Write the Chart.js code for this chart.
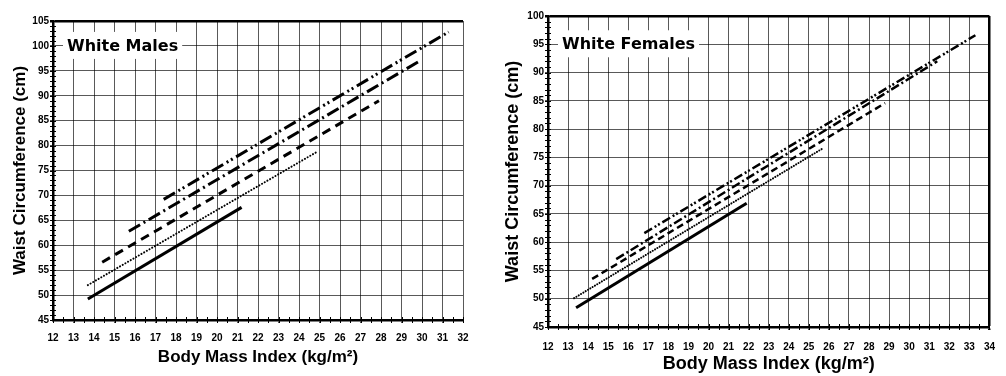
<!DOCTYPE html>
<html>
<head>
<meta charset="utf-8">
<script src="https://cdn.jsdelivr.net/npm/chart.js@4.4.1/dist/chart.umd.min.js"></script>
<style>
  body { margin: 0; background: #fff; }
  #maleChart { position: absolute; left: 0; top: 0; }
  #femaleChart { position: absolute; left: 495px; top: 0; }
</style>
</head>
<body>
<canvas id="maleChart" width="490" height="376"></canvas>
<canvas id="femaleChart" width="511" height="376"></canvas>
<script>
// line names (the picture has no legend)
const lineNames = ["solid", "dotted", "dashed", "dash-dot", "dash-dot-dot"];

// white males: bmi and waist at start and end of each line
const maleBmi = [[13.7, 21.2], [13.7, 24.9], [14.4, 27.9], [15.7, 29.9], [17.4, 31.3]];
const maleWaist = [[49.2, 67.6], [52.0, 78.8], [56.6, 89.0], [62.8, 97.0], [69.2, 102.8]];

// white females
const femaleBmi = [[13.4, 21.9], [13.3, 25.7], [14.2, 28.8], [15.4, 31.4], [16.8, 33.3]];
const femaleWaist = [[48.4, 66.9], [50.1, 76.6], [53.5, 84.6], [57.0, 92.0], [61.6, 96.6]];

// axis ranges
const maleXRange = [12, 32];
const maleYRange = [45, 105];
const femaleXRange = [12, 34];
const femaleYRange = [45, 100];

// minor ticks + title box inside the plot
const chartDecor = {
  id: "chartDecor",
  beforeDatasetsDraw(chart, args, opts) {
    const { ctx, chartArea, scales } = chart;
    ctx.save();
    ctx.strokeStyle = "#000";
    ctx.lineWidth = 1;
    for (let v = scales.y.min; v <= scales.y.max; v += 1) {
      const py = Math.round(scales.y.getPixelForValue(v)) + 0.5;
      ctx.beginPath();
      ctx.moveTo(chartArea.left - 3, py);
      ctx.lineTo(chartArea.left + 3, py);
      ctx.stroke();
    }
    for (let v = scales.x.min; v <= scales.x.max; v += 0.5) {
      const px = Math.round(scales.x.getPixelForValue(v)) + 0.5;
      ctx.beginPath();
      ctx.moveTo(px, chartArea.bottom - 3);
      ctx.lineTo(px, chartArea.bottom + 3);
      ctx.stroke();
    }
    // title box
    ctx.font = "bold 16px 'DejaVu Sans'";
    const ty = scales.y.getPixelForValue(opts.atValue);
    const w = ctx.measureText(opts.text).width;
    ctx.fillStyle = "#fff";
    ctx.fillRect(chartArea.left + 10, ty - 14, w + 8, 27);
    ctx.fillStyle = "#000";
    ctx.textBaseline = "middle";
    ctx.fillText(opts.text, chartArea.left + 14, ty + 1);
    ctx.restore();
  }
};

function makeDatasets(bmi, waist, dashes, widths) {
  return bmi.map((xs, i) => ({
    label: lineNames[i],
    data: xs.map((x, j) => ({ x: x, y: waist[i][j] })),
    showLine: true,
    borderColor: "#000",
    borderWidth: widths[i],
    borderDash: dashes[i],
    borderCapStyle: i === 1 ? "round" : "butt",
    pointRadius: 0,
    fill: false
  }));
}

function makeOptions(xRange, yRange, box, fontSize, xPad, titleText, titleAt) {
  const gridColor = (max) => (c) => (c.tick && c.tick.value === max ? "#000" : "rgba(0,0,0,0.65)");
  const gridWidth = (max) => (c) => (c.tick && c.tick.value === max ? 2.5 : 1);
  return {
    responsive: false,
    animation: false,
    layout: { padding: { top: box.top, right: box.right, left: 0, bottom: 0 } },
    plugins: {
      legend: { display: false },
      tooltip: { enabled: false },
      chartDecor: { text: titleText, atValue: titleAt }
    },
    scales: {
      x: {
        type: "linear",
        min: xRange[0],
        max: xRange[1],
        afterFit: (s) => { s.height = box.xHeight; },
        ticks: {
          stepSize: 1,
          autoSkip: false,
          maxRotation: 0,
          padding: xPad,
          color: "#000",
          font: { family: "'Liberation Sans'", weight: "bold", size: 10 }
        },
        grid: { color: gridColor(box.rightBorder ? xRange[1] : null), lineWidth: gridWidth(box.rightBorder ? xRange[1] : null), tickLength: 3 },
        border: { color: "#000", width: 2.5 },
        title: {
          display: true,
          text: "Body Mass Index (kg/m²)",
          color: "#000",
          font: { family: "'Liberation Sans'", weight: "bold", size: fontSize },
          padding: { top: 0, bottom: box.xTitlePad }
        }
      },
      y: {
        type: "linear",
        min: yRange[0],
        max: yRange[1],
        afterFit: (s) => { s.width = 53; },
        ticks: {
          stepSize: 5,
          padding: 1,
          color: "#000",
          font: { family: "'Liberation Sans'", weight: "bold", size: 10 }
        },
        grid: { color: gridColor(yRange[1]), lineWidth: gridWidth(yRange[1]), tickLength: 3 },
        border: { color: "#000", width: 2.5 },
        title: {
          display: true,
          text: "Waist Circumference (cm)",
          color: "#000",
          font: { family: "'Liberation Sans'", weight: "bold", size: fontSize },
          padding: { top: box.yTitlePad, bottom: 0 }
        }
      }
    }
  };
}

const maleDashes = [[], [0.1, 3], [9, 6], [13, 4, 2, 4], [13, 4, 2, 3, 2, 4]];
const maleWidths = [3, 2, 3, 3, 3];
const femaleDashes = [[], [0.1, 2.6], [7, 4], [9, 3, 2, 3], [9, 3, 2, 2, 2, 3]];
const femaleWidths = [3, 2, 2.5, 2.5, 2.5];

new Chart(document.getElementById("maleChart").getContext("2d"), {
  type: "scatter",
  data: { datasets: makeDatasets(maleBmi, maleWaist, maleDashes, maleWidths) },
  options: makeOptions(maleXRange, maleYRange,
    { top: 21, right: 27, xHeight: 56, xTitlePad: 8, yTitlePad: 10, rightBorder: false },
    17, 9, "White Males", 100),
  plugins: [chartDecor]
});

new Chart(document.getElementById("femaleChart").getContext("2d"), {
  type: "scatter",
  data: { datasets: makeDatasets(femaleBmi, femaleWaist, femaleDashes, femaleWidths) },
  options: makeOptions(femaleXRange, femaleYRange,
    { top: 16, right: 6, xHeight: 49, xTitlePad: 1, yTitlePad: 7, rightBorder: true },
    18, 11, "White Females", 95),
  plugins: [chartDecor]
});
</script>
</body>
</html>
